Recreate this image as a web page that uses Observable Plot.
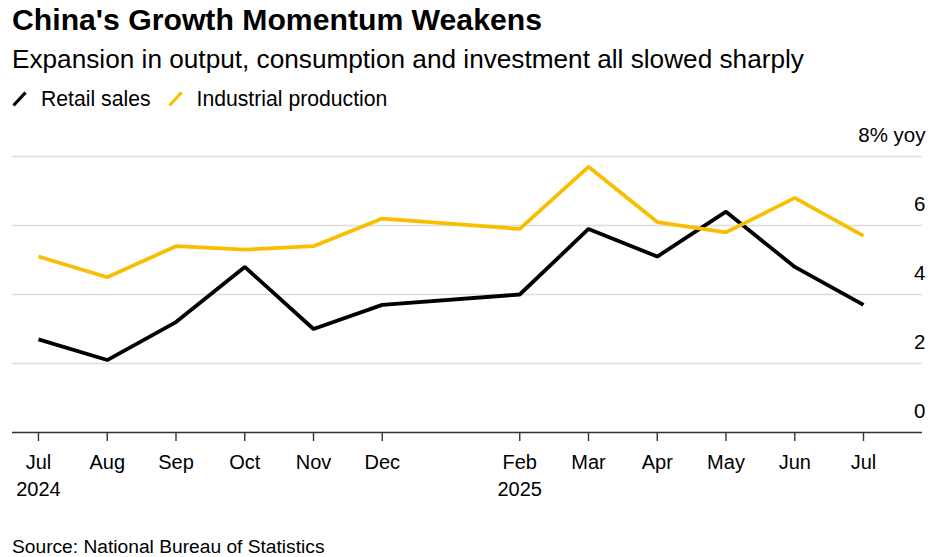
<!DOCTYPE html>
<html>
<head>
<meta charset="utf-8">
<script src="https://cdn.jsdelivr.net/npm/d3@7"></script>
<script src="https://cdn.jsdelivr.net/npm/@observablehq/plot@0.6"></script>
<style>
  html, body { margin: 0; padding: 0; background: #fff; overflow: hidden; }
  body { font-family: "Liberation Sans", Arial, sans-serif; color: #000; width: 940px; }
  .title { height: 40px; line-height: 40px; font-size: 30.2px; font-weight: bold; padding-left: 12px; }
  .subtitle { height: 38px; line-height: 38px; font-size: 26.2px; padding-left: 12px; }
  .legend { height: 42px; line-height: 42px; font-size: 21.2px; padding-left: 12px; display: flex; align-items: center; }
  .legend .item { display: flex; align-items: center; margin-right: 17px; }
  .legend svg { margin-right: 14px; }
  .source { height: 37px; line-height: 37px; padding-top: 8px; font-size: 19.2px; padding-left: 12px; }
  #chart svg { display: block; overflow: visible; }
</style>
</head>
<body>
<div class="title">China's Growth Momentum Weakens</div>
<div class="subtitle">Expansion in output, consumption and investment all slowed sharply</div>
<div class="legend" id="legend"></div>
<div id="chart"></div>
<div class="source">Source: National Bureau of Statistics</div>
<script>
// ---- data ----
const months = ["2024-07","2024-08","2024-09","2024-10","2024-11","2024-12","2025-02","2025-03","2025-04","2025-05","2025-06","2025-07"];
const monthLabels = ["Jul","Aug","Sep","Oct","Nov","Dec","Feb","Mar","Apr","May","Jun","Jul"];
const yearLabels = [{month: "2024-07", label: "2024"}, {month: "2025-02", label: "2025"}];
const retailSales = [2.7, 2.1, 3.2, 4.8, 3.0, 3.7, 4.0, 5.9, 5.1, 6.4, 4.8, 3.7];
const industrialProduction = [5.1, 4.5, 5.4, 5.3, 5.4, 6.2, 5.9, 7.7, 6.1, 5.8, 6.8, 5.7];
const yTicks = [0, 2, 4, 6, 8];
const seriesNames = ["Retail sales", "Industrial production"];
const seriesColors = ["#000000", "#f7bf00"];

// month position (months since Jul 2024)
const mIndex = s => { const [y, m] = s.split("-").map(Number); return (y - 2024) * 12 + (m - 7); };

const rows = [];
months.forEach((m, i) => {
  rows.push({series: seriesNames[0], x: mIndex(m), v: retailSales[i]});
  rows.push({series: seriesNames[1], x: mIndex(m), v: industrialProduction[i]});
});
const tickIdx = months.map(mIndex);
const labelFor = new Map(months.map((m, i) => [mIndex(m), monthLabels[i]]));

// ---- legend ----
const legend = document.getElementById("legend");
seriesNames.forEach((name, i) => {
  const item = document.createElement("span");
  item.className = "item";
  item.innerHTML = `<svg width="15" height="16" viewBox="0 0 15 16"><line x1="1.5" y1="14.5" x2="13.5" y2="1.5" stroke="${seriesColors[i]}" stroke-width="3.2"/></svg><span>${name}</span>`;
  legend.appendChild(item);
});

// ---- chart ----
const width = 940, height = 400;
const plot = Plot.plot({
  width, height,
  marginTop: 36, marginBottom: 88, marginLeft: 12, marginRight: 18,
  style: {fontFamily: "Liberation Sans, Arial, sans-serif", fontSize: "20px", color: "#000", background: "transparent", overflow: "visible"},
  x: {type: "linear", domain: [-0.378, 12.858], axis: null},
  y: {domain: [0, 8], axis: null},
  color: {domain: seriesNames, range: seriesColors},
  marks: [
    Plot.ruleY(yTicks.filter(d => d > 0), {stroke: "#dcdcdc", strokeWidth: 1.6}),
    Plot.text(yTicks, {
      y: d => d, text: d => d === 8 ? "8% yoy" : String(d),
      frameAnchor: "right", textAnchor: "end", dx: 3, dy: -21, lineAnchor: "middle",
      fontSize: 20.5, fill: "#000"
    }),
    Plot.line(rows, {x: "x", y: "v", z: "series", stroke: "series", strokeWidth: 3.8, strokeLinejoin: "miter", strokeLinecap: "butt"}),
    Plot.ruleY([0], {stroke: "#333", strokeWidth: 1.6}),
    Plot.axisX({
      ticks: tickIdx, tickFormat: d => labelFor.get(d),
      tickSize: 9, tickPadding: 13, stroke: "#333", strokeWidth: 1.4,
      fontSize: 20, fill: "#000", label: null
    }),
    Plot.text(yearLabels, {
      x: d => mIndex(d.month), text: "label",
      frameAnchor: "bottom", lineAnchor: "top", dy: 49, fontSize: 20, fill: "#000"
    })
  ]
});
document.getElementById("chart").appendChild(plot);
</script>
</body>
</html>
